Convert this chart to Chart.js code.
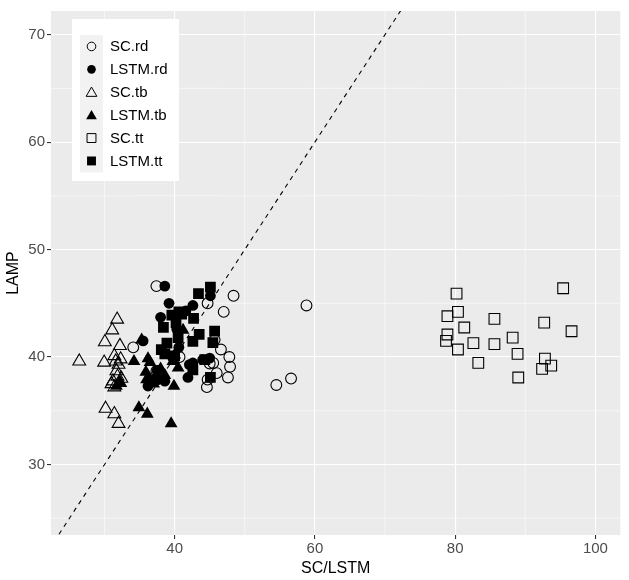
<!DOCTYPE html>
<html>
<head>
<meta charset="utf-8">
<script src="https://cdn.jsdelivr.net/npm/chart.js@4.4.1/dist/chart.umd.min.js"></script>
<style>
  html, body { margin: 0; padding: 0; background: #fff; }
  #wrap { width: 629px; height: 580px; }
</style>
</head>
<body>
<div id="wrap"><canvas id="myChart" width="629" height="580"></canvas></div>
<script>
// values: [SC/LSTM, LAMP]
const scRd = [
  [37.4, 46.6], [44.7, 45.0], [48.4, 45.7], [47.0, 44.2], [46.6, 40.7],
  [47.8, 40.0], [47.9, 39.1], [47.6, 38.1], [46.0, 38.5], [45.5, 39.45],
  [44.7, 37.9], [44.6, 37.2], [40.7, 40.0], [37.4, 38.7], [34.1, 40.9],
  [58.8, 44.8], [56.6, 38.0], [54.5, 37.4], [45.7, 41.6], [45.0, 39.4]
];
const lstmRd = [
  [38.6, 46.6], [39.2, 45.0], [42.6, 44.8], [45.1, 45.7], [38.0, 43.7],
  [41.6, 44.3], [40.6, 40.9], [42.6, 39.45], [41.9, 38.1], [44.0, 39.75],
  [37.6, 37.9], [36.2, 37.3], [36.4, 37.9], [38.6, 37.75], [39.75, 39.9],
  [35.5, 41.5], [42.1, 39.3], [37.5, 38.75], [45.0, 39.9], [40.3, 42.6]
];
const scTb = [
  [31.8, 43.5], [31.1, 42.5], [30.05, 41.4], [32.2, 41.05], [26.4, 39.6],
  [29.95, 39.5], [31.4, 40.1], [31.6, 39.6], [32.0, 39.3], [31.7, 38.7],
  [31.85, 38.2], [31.2, 37.75], [32.2, 37.6], [31.4, 37.2], [30.15, 35.2],
  [31.4, 34.7], [32.0, 33.8], [32.4, 38.0], [31.0, 37.5], [32.3, 39.8]
];
const lstmTb = [
  [34.2, 39.6], [36.2, 39.85], [36.5, 39.5], [35.9, 38.6], [39.9, 37.3],
  [34.9, 35.3], [36.1, 34.7], [39.5, 33.8], [31.7, 37.3], [41.2, 42.5],
  [40.5, 39.0], [39.75, 39.6], [37.3, 38.2], [36.0, 37.9], [35.3, 41.6],
  [38.6, 38.3], [37.0, 37.5], [40.0, 40.2], [32.2, 37.6], [38.0, 38.9]
];
const scTt = [
  [80.2, 45.9], [95.4, 46.4], [80.4, 44.2], [78.9, 43.8], [85.6, 43.55],
  [92.7, 43.2], [96.6, 42.4], [81.3, 42.75], [78.9, 42.1], [78.7, 41.5],
  [82.6, 41.3], [85.6, 41.2], [88.2, 41.8], [80.4, 40.7], [88.9, 40.3],
  [83.3, 39.45], [92.8, 39.85], [93.7, 39.2], [92.4, 38.9], [89.0, 38.1]
];
const lstmTt = [
  [43.4, 45.9], [45.1, 46.5], [39.6, 43.9], [40.6, 44.2], [42.7, 43.6],
  [38.4, 42.75], [40.2, 43.2], [40.5, 41.8], [43.5, 42.1], [42.6, 41.45],
  [45.7, 42.4], [45.45, 41.35], [38.9, 41.3], [38.1, 40.7], [38.6, 40.3],
  [44.3, 39.75], [45.1, 38.1], [40.0, 40.1], [42.6, 38.8], [41.0, 44.0]
];
const seriesNames = ["SC.rd", "LSTM.rd", "SC.tb", "LSTM.tb", "SC.tt", "LSTM.tt"];
const xTicks = [40, 60, 80, 100];
const yTicks = [30, 40, 50, 60, 70];
const xMinor = [30, 50, 70, 90];
const yMinor = [25, 35, 45, 55, 65];
const identityLine = [[20, 20], [110, 110]];

const FONT = "'Liberation Sans', Arial, sans-serif";

function pts(arr) {
  return arr.map(function (p) { return { x: p[0], y: p[1] }; });
}

// shape for each series: [pointStyle, filled, radius, legend radius]
const shapes = [
  ["circle", false, 5.4, 4.3], ["circle", true, 5.4, 4.3],
  ["triangle", false, 7.4, 6.2], ["triangle", true, 7.4, 6.2],
  ["rect", false, 7.6, 6.3], ["rect", true, 7.6, 6.3]
];
const allData = [scRd, lstmRd, scTb, lstmTb, scTt, lstmTt];

const datasets = allData.map(function (d, i) {
  const s = shapes[i];
  return {
    label: seriesNames[i],
    data: pts(d),
    pointStyle: s[0],
    pointRadius: s[2],
    pointHoverRadius: s[2],
    backgroundColor: s[1] ? "#000" : "rgba(0,0,0,0)",
    borderColor: "#000",
    pointBorderWidth: s[1] ? 0 : 1.1,
    order: s[1] ? 2 : 1
  };
});

datasets.push({
  type: "line",
  label: "identity",
  data: pts(identityLine),
  borderColor: "#000",
  borderWidth: 1.1,
  borderDash: [4.5, 4.5],
  pointRadius: 0,
  fill: false,
  order: 0
});

// grey panel + minor grid lines
const panelBg = {
  id: "panelBg",
  beforeDraw: function (chart) {
    const ctx = chart.ctx, a = chart.chartArea;
    const xs = chart.scales.x, ys = chart.scales.y;
    ctx.save();
    ctx.fillStyle = "#EBEBEB";
    ctx.fillRect(a.left, a.top, a.right - a.left, a.bottom - a.top);
    ctx.strokeStyle = "#FFFFFF";
    ctx.lineWidth = 0.55;
    xMinor.forEach(function (v) {
      const px = xs.getPixelForValue(v);
      ctx.beginPath(); ctx.moveTo(px, a.top); ctx.lineTo(px, a.bottom); ctx.stroke();
    });
    yMinor.forEach(function (v) {
      const py = ys.getPixelForValue(v);
      ctx.beginPath(); ctx.moveTo(a.left, py); ctx.lineTo(a.right, py); ctx.stroke();
    });
    ctx.restore();
  }
};

function drawShape(ctx, style, x, y, r) {
  if (style === "circle") {
    ctx.arc(x, y, r, 0, Math.PI * 2);
  } else if (style === "triangle") {
    ctx.moveTo(x, y - r);
    ctx.lineTo(x + r * 0.866, y + r * 0.5);
    ctx.lineTo(x - r * 0.866, y + r * 0.5);
    ctx.closePath();
  } else {
    const h = r * Math.SQRT1_2;
    ctx.rect(x - h, y - h, 2 * h, 2 * h);
  }
}

// ggplot style legend inside the panel
const boxLegend = {
  id: "boxLegend",
  afterDraw: function (chart) {
    const ctx = chart.ctx;
    const bx = 72, by = 19, bw = 107, bh = 162;
    const kx = 80, ky = 35, kw = 23, kh = 22.9;
    ctx.save();
    ctx.fillStyle = "#FFFFFF";
    ctx.fillRect(bx, by, bw, bh);
    ctx.fillStyle = "#F2F2F2";
    ctx.fillRect(kx, ky, kw, kh * 6);
    seriesNames.forEach(function (name, i) {
      const cy = ky + kh * i + kh / 2;
      const s = shapes[i];
      ctx.fillStyle = "#000";
      ctx.strokeStyle = "#000";
      ctx.lineWidth = 1;
      ctx.beginPath();
      drawShape(ctx, s[0], kx + kw / 2, cy + (s[0] === "triangle" ? 1 : 0), s[3]);
      if (s[1]) ctx.fill(); else ctx.stroke();
      ctx.fillStyle = "#000";
      ctx.font = "15px " + FONT;
      ctx.textBaseline = "middle";
      ctx.textAlign = "left";
      ctx.fillText(name, 110, cy + 0.5);
    });
    ctx.restore();
  }
};

const ctx = document.getElementById("myChart").getContext("2d");
const myChart = new Chart(ctx, {
  type: "scatter",
  data: { datasets: datasets },
  plugins: [panelBg, boxLegend],
  options: {
    responsive: false,
    animation: false,
    layout: { padding: { top: 7, right: 7, left: 0, bottom: 0 } },
    plugins: { legend: { display: false }, tooltip: { enabled: false } },
    scales: {
      x: {
        type: "linear",
        min: 22.37,
        max: 103.55,
        afterBuildTicks: function (scale) {
          scale.ticks = xTicks.map(function (v) { return { value: v }; });
        },
        afterFit: function (scale) { scale.height = 45; },
        border: { display: false },
        grid: { color: "#FFFFFF", lineWidth: 1.1, tickLength: 4, tickColor: "#333333", tickWidth: 1.1 },
        ticks: { color: "#4D4D4D", font: { family: FONT, size: 15 }, padding: 1, maxRotation: 0 },
        title: { display: true, text: "SC/LSTM", color: "#000", font: { family: FONT, size: 16 }, padding: { top: 0, bottom: 2 } }
      },
      y: {
        type: "linear",
        min: 23.44,
        max: 72.2,
        afterBuildTicks: function (scale) {
          scale.ticks = yTicks.map(function (v) { return { value: v }; });
        },
        afterFit: function (scale) { scale.width = 51; },
        border: { display: false },
        grid: { color: "#FFFFFF", lineWidth: 1.1, tickLength: 4, tickColor: "#333333", tickWidth: 1.1 },
        ticks: { color: "#4D4D4D", font: { family: FONT, size: 15 }, padding: 2 },
        title: { display: true, text: "LAMP", color: "#000", font: { family: FONT, size: 16 }, padding: { top: 4, bottom: 0 } }
      }
    }
  }
});
</script>
</body>
</html>
